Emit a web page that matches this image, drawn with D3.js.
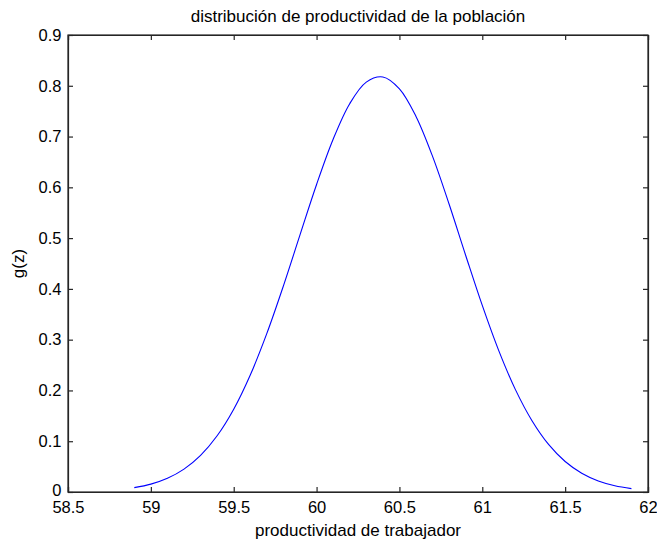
<!DOCTYPE html>
<html>
<head>
<meta charset="utf-8">
<script src="https://cdn.jsdelivr.net/npm/d3@7"></script>
<style>
  html, body { margin: 0; padding: 0; background: #fff; }
  svg { display: block; }
  text { font-family: "Liberation Sans", Arial, sans-serif; fill: #000; }
</style>
</head>
<body>
<svg id="chart" width="657" height="544"></svg>
<script>
// productividad z and density g(z)
const zValues = [58.9, 59.0, 59.1, 59.2, 59.3, 59.4, 59.5, 59.6, 59.7, 59.8, 59.9,
                 60.0, 60.1, 60.2, 60.3, 60.4, 60.5, 60.6, 60.7, 60.8, 60.9,
                 61.0, 61.1, 61.2, 61.3, 61.4, 61.5, 61.6, 61.7, 61.8, 61.9];
const gValues = [0.0086, 0.0155, 0.0270, 0.0450, 0.0721, 0.1107, 0.1630, 0.2304, 0.3123, 0.4060, 0.5063,
                 0.6056, 0.6947, 0.7647, 0.8072, 0.8173, 0.7939, 0.7396, 0.6609, 0.5666, 0.4658,
                 0.3674, 0.2779, 0.2016, 0.1404, 0.0937, 0.0600, 0.0369, 0.0217, 0.0123, 0.0067];
const xTicks = [58.5, 59, 59.5, 60, 60.5, 61, 61.5, 62];
const yTicks = [0, 0.1, 0.2, 0.3, 0.4, 0.5, 0.6, 0.7, 0.8, 0.9];

const titleText = "distribución de productividad de la población";
const xLabelText = "productividad de trabajador";
const yLabelText = "g(z)";

const svg = d3.select("#chart");
const margin = { left: 68, right: 9, top: 35, bottom: 52 };
const W = 657, H = 544;
const x = d3.scaleLinear().domain([58.5, 62]).range([margin.left, W - margin.right]);
const y = d3.scaleLinear().domain([0, 0.9]).range([H - margin.bottom, margin.top]);

const tickLen = 5;
const fmt = d => String(d);

// bottom axis, labels below, ticks pointing inward
const xAxis = d3.axisBottom(x).tickValues(xTicks).tickFormat(fmt).tickSize(-tickLen).tickPadding(9.5);
const gx = svg.append("g").attr("transform", `translate(0,${y(0)})`).call(xAxis);
// top axis (ticks only)
const gxt = svg.append("g").attr("transform", `translate(0,${y(0.9)})`)
  .call(d3.axisTop(x).tickValues(xTicks).tickFormat("").tickSize(-tickLen));
// left axis
const yAxis = d3.axisLeft(y).tickValues(yTicks).tickFormat(fmt).tickSize(-tickLen).tickPadding(6.5);
const gy = svg.append("g").attr("transform", `translate(${x(58.5)},0)`).call(yAxis);
// right axis (ticks only)
const gyr = svg.append("g").attr("transform", `translate(${x(62)},0)`)
  .call(d3.axisRight(y).tickValues(yTicks).tickFormat("").tickSize(-tickLen));

[gx, gxt, gy, gyr].forEach(g => {
  g.selectAll(".domain").attr("stroke", "#262626").attr("stroke-width", 1.2);
  g.selectAll(".tick line").attr("stroke", "#262626").attr("stroke-width", 1.2);
  g.selectAll(".tick text").attr("font-size", 16.5).attr("fill", "#1a1a1a")
    .style("font-family", '"Liberation Sans", Arial, sans-serif');
});
// lift the zero label on the y axis a little so it clears the x tick labels
gy.selectAll(".tick text").filter(d => d === 0).attr("dy", "0.2em");

// box edges
svg.append("rect")
  .attr("x", x(58.5)).attr("y", y(0.9))
  .attr("width", x(62) - x(58.5)).attr("height", y(0) - y(0.9))
  .attr("fill", "none").attr("stroke", "#262626").attr("stroke-width", 1.2);

// density curve
const line = d3.line()
  .x((d, i) => x(zValues[i]))
  .y(d => y(d))
  .curve(d3.curveCatmullRom);
svg.append("path")
  .datum(gValues)
  .attr("d", line)
  .attr("fill", "none")
  .attr("stroke", "#0000ff")
  .attr("stroke-width", 1.1);

// title and axis labels
svg.append("text").attr("x", (x(58.5) + x(62)) / 2).attr("y", 22)
  .attr("text-anchor", "middle").attr("font-size", 17).text(titleText);
svg.append("text").attr("x", (x(58.5) + x(62)) / 2).attr("y", 536)
  .attr("text-anchor", "middle").attr("font-size", 17).text(xLabelText);
svg.append("text")
  .attr("transform", `translate(24,${(y(0) + y(0.9)) / 2}) rotate(-90)`)
  .attr("text-anchor", "middle").attr("font-size", 17).text(yLabelText);
</script>
</body>
</html>
